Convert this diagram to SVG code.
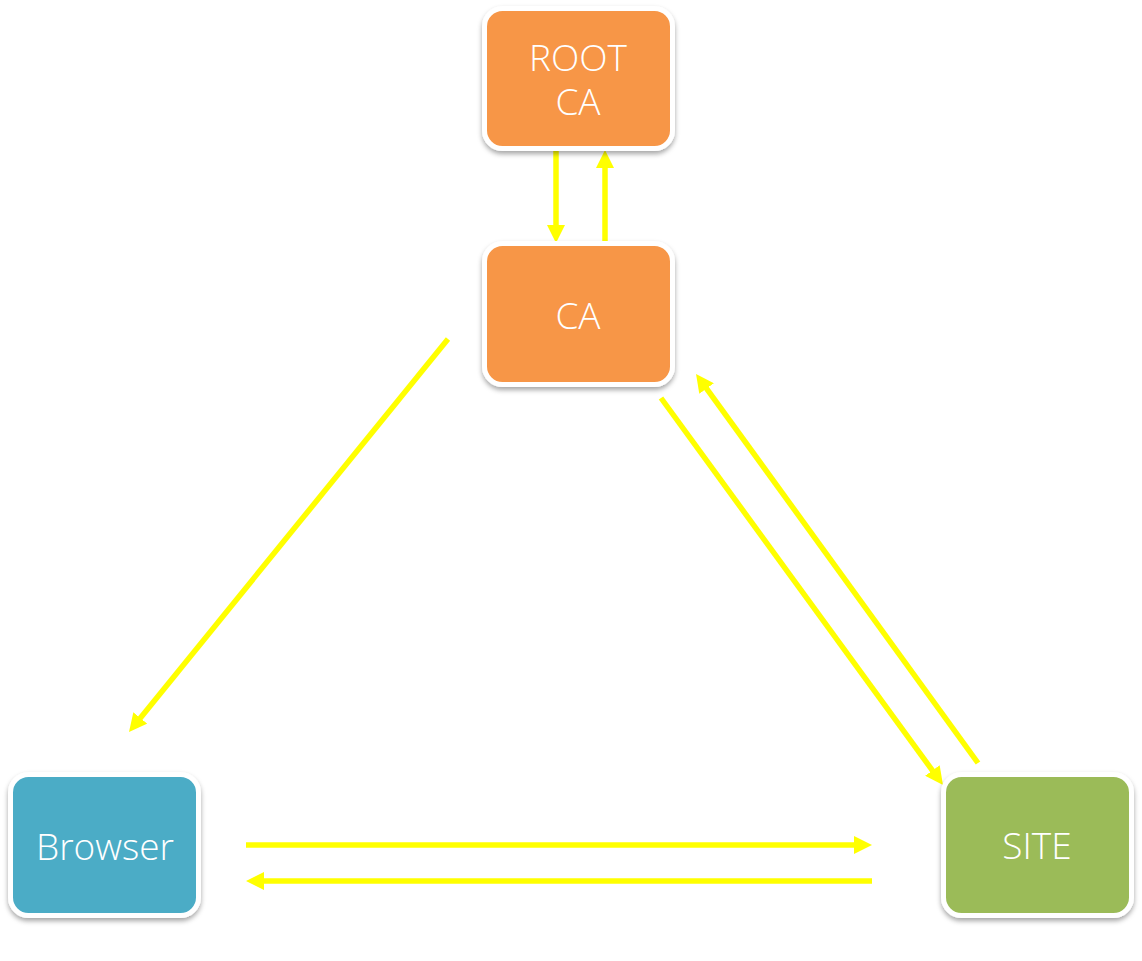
<svg xmlns="http://www.w3.org/2000/svg" width="1142" height="961" viewBox="0 0 1142 961">
<defs>
<filter id="sh" x="-10%" y="-10%" width="120%" height="130%">
<feDropShadow dx="0" dy="3" stdDeviation="2.5" flood-color="#000" flood-opacity="0.35"/>
</filter>
<marker id="ah" markerUnits="userSpaceOnUse" markerWidth="18" markerHeight="18" viewBox="0 0 18 18" refX="8" refY="9" orient="auto">
<path d="M0,0 L18,9 L0,18 z" fill="#FFFF00"/>
</marker>
</defs>
<style>
.box{stroke:#fff;stroke-width:5;filter:url(#sh)}
.lbl{font-family:"Open Sans","Liberation Sans",sans-serif;font-weight:300;font-size:37px;fill:#fff;text-anchor:middle}
.c{stroke:#FFFF00;stroke-width:5.5;fill:none;marker-end:url(#ah)}
</style>
<rect width="1142" height="961" fill="#fff"/>
<g id="connectors">
<line class="c" x1="556" y1="150" x2="556" y2="233"/>
<line class="c" x1="605" y1="243" x2="605" y2="160"/>
<line class="c" x1="448" y1="339" x2="135.3" y2="724.2"/>
<line class="c" x1="661" y1="398" x2="937.1" y2="776.9"/>
<line class="c" x1="978" y1="763" x2="701.9" y2="382.1"/>
<line class="c" x1="246" y1="845" x2="862" y2="845"/>
<line class="c" x1="872" y1="881" x2="256" y2="881"/>
</g>
<g id="root-ca">
<rect class="box" x="484.5" y="8.5" width="188" height="140" rx="18" fill="#F79646"/>
<text class="lbl" x="578" y="71"><tspan x="578" y="71">ROOT</tspan><tspan x="578" y="115">CA</tspan></text>
</g>
<g id="ca">
<rect class="box" x="484.5" y="243.5" width="188" height="141" rx="18" fill="#F79646"/>
<text class="lbl" x="578" y="329">CA</text>
</g>
<g id="browser">
<rect class="box" x="10.5" y="774.5" width="188" height="141" rx="18" fill="#4BACC6"/>
<text class="lbl" x="105" y="860">Browser</text>
</g>
<g id="site">
<rect class="box" x="943.5" y="774.5" width="188" height="141" rx="18" fill="#9BBB59"/>
<text class="lbl" x="1037" y="859">SITE</text>
</g>
</svg>
